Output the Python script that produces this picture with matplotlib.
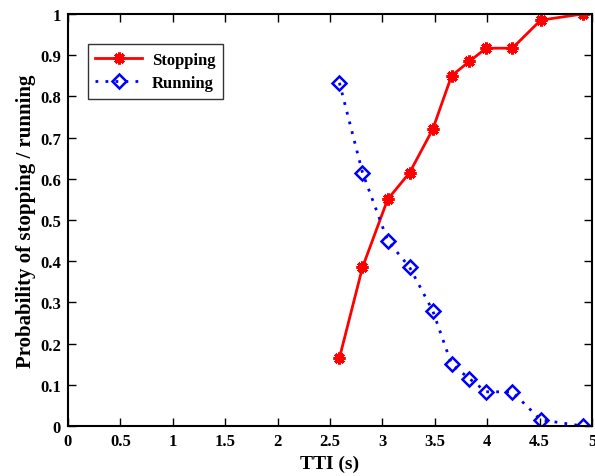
import matplotlib.pyplot as plt

plt.rcParams['font.family'] = 'Liberation Serif'
plt.rcParams['font.weight'] = 'bold'

# Data
tti = [2.59, 2.81, 3.05, 3.26, 3.48, 3.66, 3.83, 3.99, 4.24, 4.51, 4.91]
stopping = [0.165, 0.385, 0.55, 0.615, 0.72, 0.85, 0.885, 0.917, 0.917, 0.985, 1.0]
running = [0.833, 0.615, 0.45, 0.385, 0.28, 0.15, 0.115, 0.083, 0.083, 0.015, 0.0]

fig = plt.figure(figsize=(5.95, 4.77), dpi=100)
ax = fig.add_axes([68 / 595, 50 / 477, 524 / 595, 412 / 477])

ax.plot(tti, stopping, color='red', lw=2, marker=(8, 2, 0), ms=8.5, mew=2.2,
        label='Stopping')
ax.plot(tti, running, color='blue', lw=2, ls=(0, (1, 2.6)), marker='D', ms=7,
        mew=1.8, mfc='none', label='Running')

ax.set_xlim(0, 5)
ax.set_ylim(0, 1)
ax.set_xticks([0, 0.5, 1, 1.5, 2, 2.5, 3, 3.5, 4, 4.5, 5])
ax.set_xticklabels(['0', '0.5', '1', '1.5', '2', '2.5', '3', '3.5', '4', '4.5', '5'])
ax.set_yticks([i / 10 for i in range(11)])
ax.set_yticklabels(['0', '0.1', '0.2', '0.3', '0.4', '0.5', '0.6', '0.7', '0.8', '0.9', '1'])
ax.tick_params(direction='in', top=True, right=True, labelsize=12, length=6, width=1,
               pad=5)
for s in ax.spines.values():
    s.set_linewidth(1.5)

ax.set_xlabel('TTI (s)', fontsize=14, fontweight='bold', labelpad=4)
ax.set_ylabel('Probability of stopping / running', fontsize=15, fontweight='bold',
              labelpad=3)

leg = ax.legend(loc='upper left', bbox_to_anchor=(0.038, 0.927), borderaxespad=0,
                fontsize=12, frameon=True, fancybox=False, edgecolor='black',
                handlelength=2.8, borderpad=0.45, labelspacing=0.45,
                handletextpad=0.6)
leg.get_frame().set_linewidth(1)

fig.savefig('out.png', dpi=100)
